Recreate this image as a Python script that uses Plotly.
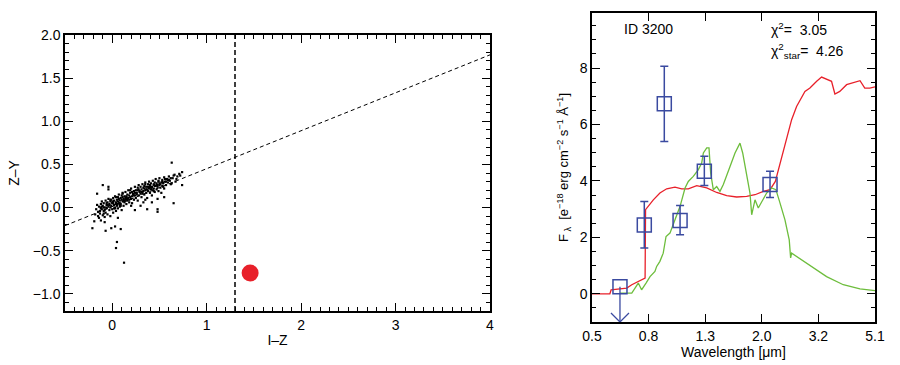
import numpy as np
import plotly.graph_objects as go

# ---------------- Left panel data (I-Z vs Z-Y) ----------------
field_iz = [
    -0.18, -0.17, -0.16, -0.15, -0.14, -0.14, -0.13, -0.12, -0.12, -0.11, -0.11, -0.10, -0.10,
    -0.09, -0.09, -0.08, -0.08, -0.07, -0.07, -0.06, -0.06, -0.05, -0.05, -0.04, -0.04, -0.03,
    -0.03, -0.02, -0.02, -0.01, -0.01, 0.00, 0.00, 0.01, 0.01, 0.02, 0.02, 0.03, 0.03, 0.04,
    0.04, 0.05, 0.05, 0.06, 0.06, 0.07, 0.07, 0.08, 0.08, 0.09, 0.09, 0.10, 0.10, 0.11, 0.11,
    0.12, 0.12, 0.13, 0.13, 0.14, 0.14, 0.15, 0.15, 0.16, 0.16, 0.17, 0.17, 0.18, 0.18, 0.19,
    0.20, 0.20, 0.21, 0.21, 0.22, 0.23, 0.23, 0.24, 0.24, 0.25, 0.25, 0.26, 0.27, 0.27, 0.28,
    0.28, 0.29, 0.30, 0.30, 0.31, 0.31, 0.32, 0.32, 0.33, 0.33, 0.34, 0.34, 0.35, 0.35, 0.36,
    0.36, 0.37, 0.37, 0.38, 0.38, 0.39, 0.39, 0.40, 0.40, 0.41, 0.41, 0.42, 0.42, 0.43, 0.43,
    0.44, 0.44, 0.45, 0.45, 0.46, 0.46, 0.47, 0.47, 0.48, 0.48, 0.49, 0.49, 0.50, 0.50, 0.51,
    0.52, 0.52, 0.53, 0.53, 0.54, 0.55, 0.55, 0.56, 0.57, 0.58, 0.59, 0.60, 0.61, 0.62, 0.63,
    0.64, 0.66, 0.67, 0.69, 0.71, 0.74,
    -0.21, -0.16, -0.10, -0.04, -0.04, -0.07, -0.01, 0.03, 0.09, 0.05, 0.04, 0.125,
    0.48, 0.48, 0.65, 0.74, 0.24, 0.37, 0.30, 0.42, 0.55,
    -0.13, -0.11, -0.09, -0.06, -0.03, 0.00, 0.02, 0.04, 0.06, 0.08, 0.10, 0.12, 0.14, 0.16,
    0.19, 0.22, 0.26, 0.29, 0.33, 0.36, 0.39, 0.42, 0.45, 0.48, 0.51, 0.54, 0.57, 0.60,
    -0.12, -0.08, -0.05, -0.02, 0.01, 0.03, 0.05, 0.07, 0.09, 0.11, 0.13, 0.15, 0.18, 0.21,
    0.24, 0.27, 0.31, 0.34, 0.38, 0.41, 0.44, 0.47, 0.50, 0.53, 0.56, 0.59, 0.62, 0.65,
    -0.15, -0.12, -0.09, -0.06, -0.02, 0.01, 0.04, 0.08, 0.11, 0.15, 0.19, 0.23, 0.28, 0.32,
    0.35, 0.40, 0.44, 0.49, 0.54, 0.58, 0.63, 0.68, 0.72, -0.19, -0.08, 0.06, 0.20, 0.35,
]
field_zy = [
    -0.08, -0.02, 0.03, -0.05, -0.12, 0.01, -0.07, 0.04, -0.15, -0.02, 0.07, -0.09, 0.02,
    -0.04, 0.05, -0.11, 0.00, 0.08, -0.06, 0.03, -0.01, 0.06, -0.08, 0.01, 0.10, -0.03,
    0.04, 0.07, -0.10, 0.02, 0.09, -0.02, 0.05, 0.11, -0.06, 0.03, 0.08, 0.00, 0.13, 0.06,
    -0.04, 0.09, 0.02, 0.12, -0.01, 0.05, 0.15, 0.08, 0.01, 0.11, 0.04, 0.14, -0.03, 0.07, 0.17,
    0.10, 0.02, 0.13, 0.06, 0.09, 0.18, 0.04, 0.12, 0.15, 0.08, 0.20, 0.11, 0.06, 0.14, 0.17,
    0.10, 0.22, 0.13, 0.05, 0.16, 0.19, 0.09, 0.24, 0.14, 0.11, 0.20, 0.17, 0.23, 0.08, 0.14,
    0.26, 0.19, 0.16, 0.24, 0.12, 0.21, 0.27, 0.18, 0.23, 0.06, 0.15, 0.25, 0.20, 0.29, 0.17,
    0.24, 0.21, 0.11, 0.27, 0.19, 0.23, 0.30, 0.17, 0.25, 0.21, 0.28, 0.14, 0.24, 0.31, 0.20,
    0.26, 0.22, 0.29, 0.18, 0.25, 0.33, 0.21, 0.28, 0.24, 0.10, 0.30, 0.19, 0.26, 0.34, 0.23,
    0.29, 0.17, 0.32, 0.25, 0.28, 0.22, 0.35, 0.30, 0.26, 0.33, 0.29, 0.36, 0.31, 0.27, 0.52,
    0.34, 0.38, 0.30, 0.36, 0.39, 0.41,
    -0.24, 0.16, 0.26, 0.24, 0.21, -0.27, -0.24, -0.22, -0.25, -0.40, -0.47, -0.64,
    -0.02, -0.05, 0.05, 0.26, -0.03, -0.02, 0.02, 0.06, 0.12,
    -0.04, 0.01, -0.07, 0.00, 0.03, 0.06, -0.01, 0.04, 0.07, 0.03, 0.09, 0.08, 0.11, 0.10,
    0.12, 0.15, 0.15, 0.18, 0.19, 0.21, 0.22, 0.23, 0.25, 0.26, 0.27, 0.29, 0.30, 0.32,
    0.00, -0.03, 0.03, 0.00, 0.05, -0.01, 0.04, 0.10, 0.02, 0.12, 0.08, 0.10, 0.09, 0.18,
    0.17, 0.20, 0.18, 0.22, 0.24, 0.23, 0.27, 0.26, 0.28, 0.30, 0.33, 0.32, 0.34, 0.37,
    -0.10, -0.01, 0.00, 0.05, 0.09, 0.07, 0.12, 0.05, 0.16, 0.13, 0.20, 0.14, 0.21, 0.16,
    0.27, 0.26, 0.19, 0.31, 0.24, 0.33, 0.28, 0.33, 0.37, -0.16, -0.17, -0.12, 0.02, 0.09,
]
target_iz = [1.46]
target_zy = [-0.76]
sep_iz = [-0.5, 4.0]
sep_zy = [-0.21, 1.77]
cut_iz = 1.3

# ---------------- Right panel data (SED) ----------------
phot_wl = [0.768, 0.905, 1.03, 1.257, 2.155]
phot_f = [2.44, 6.73, 2.60, 4.34, 3.87]
phot_err_hi = [0.83, 1.33, 0.53, 0.53, 0.47]
phot_err_lo = [0.82, 1.33, 0.51, 0.50, 0.46]
limit_wl = [0.629]
limit_f = [0.25]

gal_wl = [0.5, 0.579, 0.585, 0.665, 0.693, 0.773, 0.776, 0.827, 0.873, 0.923, 0.988, 1.044,
          1.102, 1.181, 1.282, 1.391, 1.510, 1.639, 1.779, 1.905, 2.04, 2.155, 2.251, 2.338,
          2.436, 2.54, 2.573, 2.68, 2.87, 2.99, 3.07, 3.16, 3.29, 3.43, 3.57, 3.67, 3.82,
          4.04, 4.26, 4.51, 4.69, 4.89, 5.1]
gal_f = [0.0, 0.0, 0.14, 0.20, 0.32, 0.56, 2.98, 3.33, 3.57, 3.72, 3.78, 3.72,
         3.72, 3.83, 3.75, 3.59, 3.48, 3.43, 3.45, 3.51, 3.63, 3.69, 3.98, 4.63,
         5.34, 5.99, 6.17, 6.64, 7.17, 7.29, 7.41, 7.53, 7.68, 7.59, 7.53, 7.08, 7.17,
         7.41, 7.47, 7.55, 7.29, 7.29, 7.33]

star_wl = [0.629, 0.693, 0.731, 0.751, 0.779, 0.805, 0.838, 0.85, 0.873, 0.897, 0.918, 0.948,
           0.988, 1.03, 1.073, 1.102, 1.148, 1.197, 1.230, 1.247, 1.282, 1.306, 1.324, 1.353,
           1.391, 1.429, 1.469, 1.510, 1.552, 1.617, 1.684, 1.722, 1.779, 1.828, 1.854, 1.905,
           1.957, 2.012, 2.096, 2.184, 2.262, 2.338, 2.436, 2.523, 2.552, 2.573, 2.909, 3.428,
           3.931, 4.508, 5.1]
star_f = [0.02, 0.02, 0.38, 0.14, 0.38, 0.61, 0.79, 0.97, 1.15, 1.44, 2.03, 2.15,
          2.62, 3.10, 3.75, 3.98, 4.16, 4.40, 4.63, 4.99, 5.17, 5.17, 4.28, 3.69,
          3.80, 3.63, 3.87, 4.16, 4.51, 4.99, 5.34, 4.99, 4.16, 3.57, 2.80, 3.33,
          3.04, 3.27, 3.57, 3.75, 3.69, 3.22, 2.62, 1.91, 1.27, 1.44, 1.09, 0.61,
          0.32, 0.17, 0.11]

wl_tick_labels = ["0.5", "0.8", "1.3", "2.0", "3.2", "5.1"]
wl_min, wl_max = 0.5, 5.1
f_min, f_max = -1.0, 9.95

RED = "#e8202a"
GREEN = "#6dbd3c"
BLUE = "#3a4aa0"
FONT = "Liberation Sans, Arial, sans-serif"

fig = go.Figure()

# left panel
fig.add_trace(go.Scatter(x=field_iz, y=field_zy, mode="markers", xaxis="x", yaxis="y",
                         marker=dict(symbol="square", size=2.2, color="black", line=dict(width=0)),
                         showlegend=False))
fig.add_trace(go.Scatter(x=sep_iz, y=sep_zy, mode="lines", xaxis="x", yaxis="y",
                         line=dict(color="black", width=1, dash="4px,3px"), showlegend=False))
fig.add_trace(go.Scatter(x=[cut_iz, cut_iz], y=[-1.2, 2.0], mode="lines", xaxis="x", yaxis="y",
                         line=dict(color="black", width=1.5, dash="5px,3px"), showlegend=False))
fig.add_trace(go.Scatter(x=target_iz, y=target_zy, mode="markers", xaxis="x", yaxis="y",
                         marker=dict(size=17, color=RED, line=dict(width=0)), showlegend=False))

# right panel
fig.add_trace(go.Scatter(x=gal_wl, y=gal_f, mode="lines", xaxis="x2", yaxis="y2",
                         line=dict(color=RED, width=1.3), showlegend=False))
fig.add_trace(go.Scatter(x=star_wl, y=star_f, mode="lines", xaxis="x2", yaxis="y2",
                         line=dict(color=GREEN, width=1.3), showlegend=False))
fig.add_trace(go.Scatter(x=phot_wl, y=phot_f, mode="markers", xaxis="x2", yaxis="y2",
                         marker=dict(symbol="square-open", size=14, color=BLUE, line=dict(width=1.5)),
                         error_y=dict(type="data", array=phot_err_hi, arrayminus=phot_err_lo,
                                      color=BLUE, thickness=1.5, width=4),
                         showlegend=False))
# upper limit: square, stem to bottom and open arrow head
ah_x = 10 ** (9 / 283 * np.log10(wl_max / wl_min))
ah_y = 9 / 309 * (f_max - f_min)
lx, ly = limit_wl[0], limit_f[0]
fig.add_trace(go.Scatter(x=limit_wl, y=limit_f, mode="markers", xaxis="x2", yaxis="y2",
                         marker=dict(symbol="square-open", size=14, color=BLUE, line=dict(width=1.5)),
                         showlegend=False))
fig.add_trace(go.Scatter(x=[lx, lx, None, lx / ah_x, lx, lx * ah_x],
                         y=[ly, f_min, None, f_min + ah_y, f_min, f_min + ah_y],
                         mode="lines", xaxis="x2", yaxis="y2",
                         line=dict(color=BLUE, width=1.3), showlegend=False))

tickfont = dict(family=FONT, size=14, color="black")
common = dict(showgrid=False, zeroline=False, showline=True, linecolor="black", linewidth=1.5,
              mirror="allticks", ticks="inside", tickcolor="black", tickfont=tickfont,
              automargin=False)

fig.update_layout(
    width=900, height=365, margin=dict(l=0, r=0, t=0, b=0, autoexpand=False),
    paper_bgcolor="white", plot_bgcolor="white",
    font=dict(family=FONT, color="black"),
    xaxis=dict(domain=[65 / 900, 490 / 900], range=[-0.5, 4.0], tick0=0, dtick=1,
               ticklen=8, tickwidth=1.3,
               minor=dict(dtick=0.1, ticklen=4, tickcolor="black", tickwidth=1, ticks="inside"),
               title=dict(text="I\u2013Z", font=dict(family=FONT, size=14), standoff=4),
               anchor="y", **common),
    yaxis=dict(domain=[(365 - 311) / 365, (365 - 35) / 365], range=[-1.2, 2.0], tick0=0, dtick=0.5,
               tickformat=".1f", ticklen=8, tickwidth=1.3,
               minor=dict(dtick=0.1, ticklen=4, tickcolor="black", tickwidth=1, ticks="inside"),
               title=dict(text="Z\u2013Y", font=dict(family=FONT, size=14), standoff=10),
               anchor="x", **common),
    xaxis2=dict(domain=[592 / 900, 875 / 900], type="log",
                range=[np.log10(wl_min), np.log10(wl_max)],
                tickvals=[wl_min * (wl_max / wl_min) ** (k / (len(wl_tick_labels) - 1))
                          for k in range(len(wl_tick_labels))],
                ticktext=wl_tick_labels, ticklen=8, tickwidth=1.3,
                title=dict(text="Wavelength [\u03bcm]", font=dict(family=FONT, size=14), standoff=0),
                anchor="y2", **common),
    yaxis2=dict(domain=[(365 - 322) / 365, (365 - 13) / 365], range=[f_min, f_max],
                tickvals=[0, 2, 4, 6, 8], ticklen=8, tickwidth=1.3,
                minor=dict(dtick=0.5, tick0=0, ticklen=4, tickcolor="black", tickwidth=1, ticks="inside"),
                title=dict(text="F<sub> \u03bb</sub>  [e<sup>\u221218</sup> erg cm<sup>\u22122</sup> s<sup>\u22121</sup> \u00c5<sup>\u22121</sup>]",
                           font=dict(family=FONT, size=13), standoff=8),
                anchor="x2", **common),
    annotations=[
        dict(text="ID 3200", x=622 / 900, y=(365 - 29) / 365, xref="paper", yref="paper",
             xanchor="left", yanchor="middle", showarrow=False, font=dict(family=FONT, size=14)),
        dict(text="\u03c7<sup>2</sup>=  3.05", x=769 / 900, y=(365 - 29) / 365, xref="paper",
             yref="paper", xanchor="left", yanchor="middle", showarrow=False,
             font=dict(family=FONT, size=14)),
        dict(text="\u03c7<sup>2</sup><sub>star</sub>=  4.26", x=769 / 900, y=(365 - 51) / 365,
             xref="paper", yref="paper", xanchor="left", yanchor="middle", showarrow=False,
             font=dict(family=FONT, size=14)),
    ],
)

fig.write_html("out.html", config={"displayModeBar": False},
               post_script="document.body.style.margin='0px';")
